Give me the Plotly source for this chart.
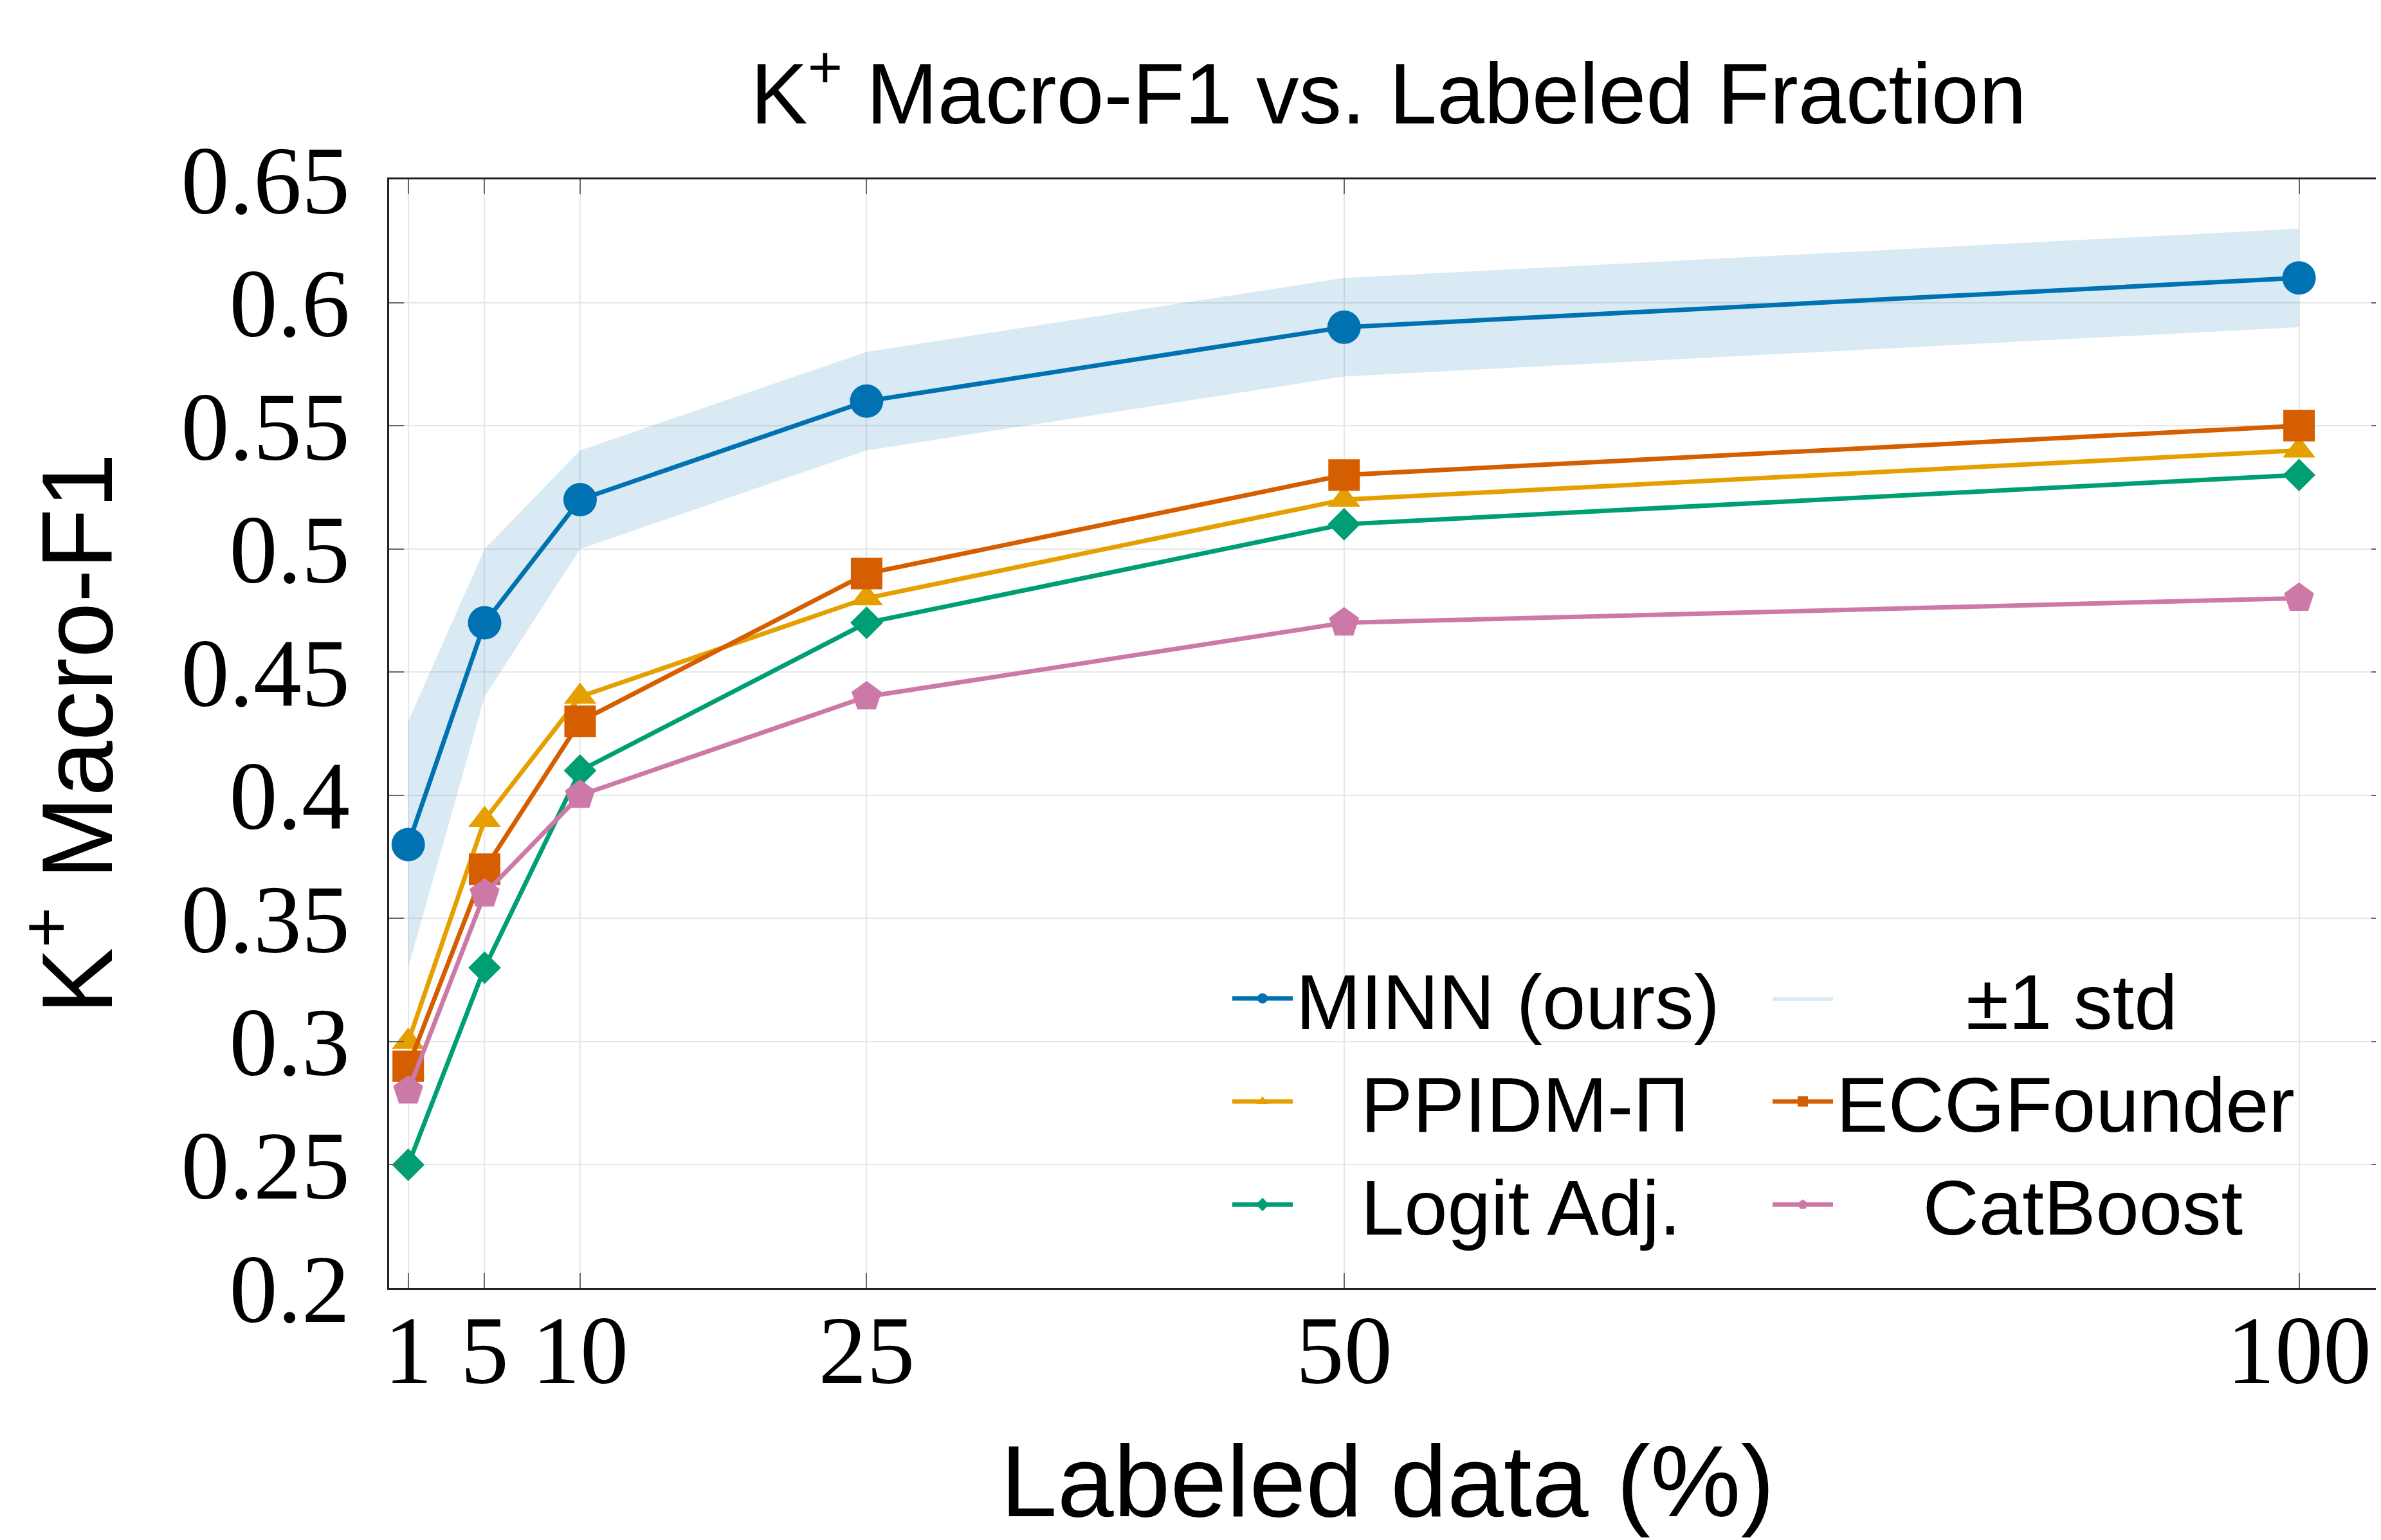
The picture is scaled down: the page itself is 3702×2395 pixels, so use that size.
import plotly.graph_objects as go

# ---------------- data ----------------
fractions = [1, 5, 10, 25, 50, 100]
minn = [0.38, 0.47, 0.52, 0.56, 0.59, 0.61]
minn_upper = [0.43, 0.50, 0.54, 0.58, 0.61, 0.63]
minn_lower = [0.33, 0.44, 0.50, 0.54, 0.57, 0.59]
ppidm = [0.30, 0.39, 0.44, 0.48, 0.52, 0.54]
ecgfounder = [0.29, 0.37, 0.43, 0.49, 0.53, 0.55]
logit_adj = [0.25, 0.33, 0.41, 0.47, 0.51, 0.53]
catboost = [0.28, 0.36, 0.40, 0.44, 0.47, 0.48]

x_tickvals = [1, 5, 10, 25, 50, 100]
x_ticktext = ["1", "5", "10", "25", "50", "100"]
y_tickvals = [0.2, 0.25, 0.3, 0.35, 0.4, 0.45, 0.5, 0.55, 0.6, 0.65]
y_ticktext = ["0.2", "0.25", "0.3", "0.35", "0.4", "0.45", "0.5", "0.55", "0.6", "0.65"]

# ---------------- style ----------------
W, H = 3702, 2395
ML, MT, MB, MR = 597, 271, 400, 0
SANS = "Liberation Sans, Arial, sans-serif"
SERIF = "Liberation Serif, DejaVu Serif, serif"
NB = "\u00a0"
LW = 7

C_MINN = "#0072B2"
C_PP = "#E69F00"
C_ECG = "#D55E00"
C_LOG = "#009E73"
C_CAT = "#CC79A7"

fig = go.Figure()

# std band
fig.add_trace(go.Scatter(x=fractions, y=minn_lower, mode="lines",
                         line=dict(width=0, color="rgba(0,0,0,0)"),
                         showlegend=False, hoverinfo="skip"))
fig.add_trace(go.Scatter(x=fractions, y=minn_upper, mode="lines",
                         line=dict(width=0, color="rgba(0,0,0,0)"),
                         fill="tonexty", fillcolor="rgba(0,114,178,0.15)",
                         name=NB * 6 + "±1 std", legendrank=2, legendgroup="B"))

series = [
    ("MINN (ours)", minn, C_MINN, "circle", 52, 1, "A"),
    (NB * 3 + "PPIDM-Π", ppidm, C_PP, "triangle-up", 44, 3, "A"),
    ("ECGFounder", ecgfounder, C_ECG, "square", 49, 4, "B"),
    (NB * 3 + "Logit Adj.", logit_adj, C_LOG, "diamond", 39, 5, "A"),
    (NB * 4 + "CatBoost", catboost, C_CAT, "pentagon", 49, 6, "B"),
]
for name, ys, col, sym, sz, rank, grp in series:
    fig.add_trace(go.Scatter(
        x=fractions, y=ys, mode="lines+markers", name=name,
        line=dict(color=col, width=LW),
        marker=dict(symbol=sym, size=sz, color=col, line=dict(width=0)),
        legendrank=rank, legendgroup=grp,
    ))

axis_common = dict(
    showline=True, linecolor="#222222", linewidth=3, mirror="ticks",
    showgrid=True, gridcolor="#E6E6E6", gridwidth=2,
    ticks="inside", ticklen=23, tickwidth=2, tickcolor="#666666",
    zeroline=False,
    tickfont=dict(family=SERIF, size=150, color="black"),
)

fig.update_xaxes(
    range=[0, 104.56], tickmode="array", tickvals=x_tickvals, ticktext=x_ticktext,
    ticklabelstandoff=-35,
    title=dict(text="Labeled data (%)", font=dict(family=SANS, size=158, color="black"),
               standoff=66),
    **axis_common,
)
fig.update_yaxes(
    range=[0.2, 0.65], tickmode="array", tickvals=y_tickvals, ticktext=y_ticktext,
    ticklabelstandoff=28,
    title=dict(text="K<sup>+</sup> Macro-F1", font=dict(family=SANS, size=155, color="black"),
               standoff=55),
    **axis_common,
)

fig.update_layout(
    width=W, height=H,
    margin=dict(l=ML, r=MR, t=MT, b=MB, autoexpand=False),
    paper_bgcolor="white", plot_bgcolor="white",
    title=dict(text="K<sup>+</sup> Macro-F1 vs. Labeled Fraction",
               font=dict(family=SANS, size=133, color="black"),
               x=0.581, xanchor="center", y=1 - 137 / H, yanchor="middle"),
    legend=dict(
        orientation="h", x=(1903 - ML) / (W - ML - MR), xanchor="left",
        y=(H - MB - 1705) / (H - MB - MT), yanchor="middle",
        bgcolor="rgba(0,0,0,0)", borderwidth=0,
        font=dict(family=SANS, size=121, color="black"),
        entrywidth=731, entrywidthmode="pixels", itemwidth=94,
        itemsizing="trace", traceorder="grouped", tracegroupgap=0,
    ),
    showlegend=True,
)

fig.write_html("out.html")
